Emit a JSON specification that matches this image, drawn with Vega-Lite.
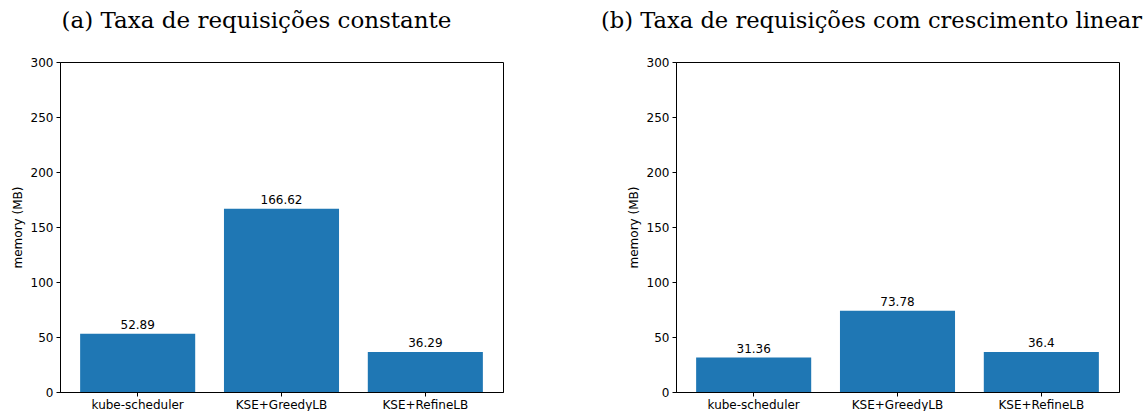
{
  "$schema": "https://vega.github.io/schema/vega-lite/v6.json",
  "autosize": {"type": "pad"},
  "padding": {"left": 10, "top": 9, "right": 0, "bottom": 0},
  "bounds": "flush",
  "spacing": 173,
  "config": {
    "font": "DejaVu Sans",
    "view": {"stroke": "black", "strokeWidth": 1},
    "axis": {
      "labelFontSize": 12,
      "labelColor": "black",
      "labelFont": "DejaVu Sans",
      "tickColor": "black",
      "tickSize": 4,
      "domainColor": "black",
      "grid": false,
      "titleFont": "DejaVu Sans",
      "titleFontSize": 12,
      "titleFontWeight": "normal",
      "titleColor": "black"
    },
    "title": {
      "font": "DejaVu Serif",
      "fontSize": 23,
      "fontWeight": "normal",
      "color": "black",
      "anchor": "middle",
      "baseline": "alphabetic",
      "offset": 23,
      "dx": -25
    }
  },
  "datasets": {
    "a": [
      {"scheduler": "kube-scheduler", "memory": 52.89},
      {"scheduler": "KSE+GreedyLB", "memory": 166.62},
      {"scheduler": "KSE+RefineLB", "memory": 36.29}
    ],
    "b": [
      {"scheduler": "kube-scheduler", "memory": 31.36},
      {"scheduler": "KSE+GreedyLB", "memory": 73.78},
      {"scheduler": "KSE+RefineLB", "memory": 36.4}
    ]
  },
  "hconcat": [
    {
      "title": "(a) Taxa de requisições constante",
      "width": 443,
      "height": 330,
      "data": {"name": "a"},
      "encoding": {
        "x": {
          "field": "scheduler", "type": "nominal", "sort": null,
          "scale": {"paddingInner": 0.2, "paddingOuter": 0.14},
          "axis": {"title": null, "labelAngle": 0, "labelPadding": 3}
        },
        "y": {
          "field": "memory", "type": "quantitative",
          "scale": {"domain": [0, 300], "nice": false},
          "axis": {"title": "memory (MB)", "values": [0, 50, 100, 150, 200, 250, 300], "labelPadding": 3, "titlePadding": 6}
        }
      },
      "layer": [
        {"mark": {"type": "bar", "color": "#1f77b4"}},
        {"mark": {"type": "text", "baseline": "alphabetic", "dy": -5, "fontSize": 12, "color": "black", "font": "DejaVu Sans"},
         "encoding": {"text": {"field": "memory", "type": "quantitative"}}}
      ]
    },
    {
      "title": {"text": "(b) Taxa de requisições com crescimento linear", "fontSize": 22.6, "dx": -26},
      "width": 443,
      "height": 330,
      "data": {"name": "b"},
      "encoding": {
        "x": {
          "field": "scheduler", "type": "nominal", "sort": null,
          "scale": {"paddingInner": 0.2, "paddingOuter": 0.14},
          "axis": {"title": null, "labelAngle": 0, "labelPadding": 3}
        },
        "y": {
          "field": "memory", "type": "quantitative",
          "scale": {"domain": [0, 300], "nice": false},
          "axis": {"title": "memory (MB)", "values": [0, 50, 100, 150, 200, 250, 300], "labelPadding": 3, "titlePadding": 6}
        }
      },
      "layer": [
        {"mark": {"type": "bar", "color": "#1f77b4"}},
        {"mark": {"type": "text", "baseline": "alphabetic", "dy": -5, "fontSize": 12, "color": "black", "font": "DejaVu Sans"},
         "encoding": {"text": {"field": "memory", "type": "quantitative"}}}
      ]
    }
  ]
}
